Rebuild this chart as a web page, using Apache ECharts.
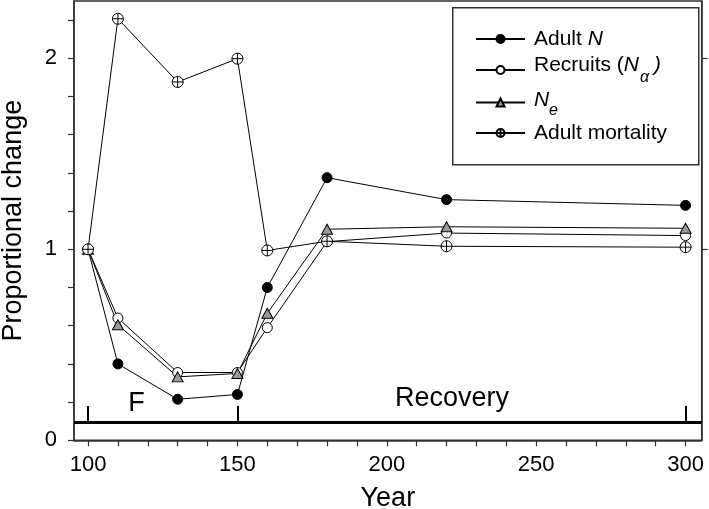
<!DOCTYPE html>
<html>
<head>
<meta charset="utf-8">
<script src="https://cdn.jsdelivr.net/npm/echarts@6/dist/echarts.min.js"></script>
<style>
html,body{margin:0;padding:0;background:#fff;}
#chart{width:709px;height:509px;}
</style>
</head>
<body>
<div id="chart"></div>
<script>
// ---- data ----
const years = [100, 110, 130, 150, 160, 180, 220, 300];
const adultN = [1.0, 0.40, 0.215, 0.24, 0.80, 1.375, 1.26, 1.23];
const recruits = [1.0, 0.64, 0.355, 0.355, 0.59, 1.04, 1.085, 1.072];
const ne = [1.0, 0.605, 0.332, 0.35, 0.665, 1.105, 1.118, 1.11];
const mortality = [1.0, 2.207, 1.876, 1.998, 0.994, 1.042, 1.016, 1.011];

const seriesNames = ['Adult N', 'Recruits (N\u03b1)', 'Ne', 'Adult mortality'];
const xTickValues = [100,110,120,130,140,150,160,170,180,190,200,210,220,230,240,250,260,270,280,290,300];
const xLabelValues = [100, 150, 200, 250, 300];
const yTickValues = [0,0.2,0.4,0.6,0.8,1,1.2,1.4,1.6,1.8,2,2.2];
const yLabelValues = [0, 1, 2];

// phase annotation
const phaseYears = [100, 150, 300];
const phaseLineY = 0.093;
const phaseTickTop = 0.18;
const phaseLabelYears = [116.2, 221.8];
const phaseLabelY = [0.19, 0.216];
const phaseLabelText = ['F', 'Recovery'];

const xMin = 95.3, xMax = 305.4, yMin = 0, yMax = 2.3;

const FONT = '"Liberation Sans", Arial, Helvetica, sans-serif';
const crossCircle = 'path://M10,0A10,10,0,1,1,10,20A10,10,0,1,1,10,0ZM0,10L20,10M10,0L10,20';

function pairs(vals){ return years.map((y,i)=>[y, vals[i]]); }

const chart = echarts.init(document.getElementById('chart'), null, {renderer:'canvas'});

const baseLine = {color:'#000', width:1};
const series = [
  {name: seriesNames[0], type:'line', data: pairs(adultN), symbol:'circle', symbolSize:10,
   lineStyle: baseLine, itemStyle:{color:'#000', borderColor:'#000', borderWidth:1}, z:3},
  {name: seriesNames[1], type:'line', data: pairs(recruits), symbol:'circle', symbolSize:10,
   lineStyle: baseLine, itemStyle:{color:'#fff', borderColor:'#000', borderWidth:1}, z:3},
  {name: seriesNames[2], type:'line', data: pairs(ne), symbol:'triangle', symbolSize:[11,10],
   lineStyle: baseLine, itemStyle:{color:'#9a9a9a', borderColor:'#000', borderWidth:1}, z:3},
  {name: seriesNames[3], type:'line', data: pairs(mortality), symbol: crossCircle, symbolSize:11,
   lineStyle: baseLine, itemStyle:{color:'#fff', borderColor:'#000', borderWidth:1}, z:3},
  {name:'phases', type:'scatter', silent:true, symbolSize:0, itemStyle:{color:'#000'},
   data: phaseLabelYears.map((x,i)=>[x, phaseLabelY[i], phaseLabelText[i]]),
   label:{show:true, position:'inside', formatter:p=>p.value[2], fontSize:27, color:'#000', opacity:1, fontFamily:FONT},
   markLine:{
     silent:true, symbol:['none','none'], animation:false,
     label:{show:false},
     lineStyle:{color:'#000', width:3, type:'solid'},
     data: [
       [{coord:[xMin, phaseLineY]}, {coord:[xMax, phaseLineY]}]
     ].concat(phaseYears.map(y => [{coord:[y, phaseLineY], lineStyle:{width:2}}, {coord:[y, phaseTickTop]}]))
   }
  }
];

const richStyles = {
  i: {fontStyle:'italic', fontSize:21, fontFamily:FONT, color:'#000', lineHeight:26},
  sp: {fontSize:21, fontFamily:FONT, lineHeight:26, width:15},
  t: {fontSize:21, fontFamily:FONT, color:'#000', lineHeight:26}
};
const legendFormat = {
  'Adult N': '{t|Adult }{i|N}',
  'Recruits (N\u03b1)': '{t|Recruits (}{i|N}{sp| }{i|)}',
  'Ne': '{i|N}{sp| }',
  'Adult mortality': '{t|Adult mortality}'
};
// subscripts of the legend labels
const subscriptText = ['\u03b1', 'e'];
const subscriptPos = [[640, 77.5], [549, 110.5]];

const legendTops = [26, 52, 87, 120];
const legendTextPad = [[0,0,0,4],[0,0,10,4],[0,0,5,4],[0,0,0,4]];
const legends = seriesNames.map((n,i)=>({
  data:[n], left:475, top: legendTops[i], padding:0, orient:'vertical',
  itemWidth:49, itemHeight:10, selectedMode:false, z:6,
  formatter: name => legendFormat[name],
  textStyle:{fontSize:21, fontFamily:FONT, color:'#000', lineHeight:26, padding:legendTextPad[i], rich:richStyles}
}));

const graphics = [{type:'rect', left:452, top:7, shape:{width:246, height:157}, z:5,
            style:{fill:'#fff', stroke:'#333', lineWidth:1.5}}].concat(
  subscriptText.map((s,i)=>({type:'text', x:subscriptPos[i][0], y:subscriptPos[i][1], z:7,
    style:{text:s, font:'italic 16px ' + FONT, fill:'#000', textAlign:'left', textVerticalAlign:'middle'}}))
);

chart.setOption({
  animation:false,
  backgroundColor:'#fff',
  textStyle:{fontFamily:FONT},
  grid:{left:74, right:7.3, top:1, bottom:68.7, outerBoundsMode:'none', containLabel:false,
        show:true, borderColor:'#333', borderWidth:1.5, backgroundColor:'rgba(0,0,0,0)'},
  legend: legends,
  graphic: graphics,
  xAxis:{type:'value', min:xMin, max:xMax, name:'Year', nameLocation:'middle', nameGap:45,
    nameTextStyle:{fontSize:27, color:'#000', fontFamily:FONT},
    axisLine:{show:true, lineStyle:{color:'#333', width:1.5}},
    axisTick:{show:true, customValues:xTickValues, length:6, lineStyle:{color:'#333', width:1.2}},
    axisLabel:{customValues:xLabelValues, fontSize:22, color:'#000', margin:14, fontFamily:FONT},
    splitLine:{show:false}},
  yAxis:[
    {type:'value', min:yMin, max:yMax, name:'Proportional change', nameLocation:'middle', nameGap:47,
     nameTextStyle:{fontSize:27, color:'#000', fontFamily:FONT},
     axisLine:{show:true, lineStyle:{color:'#333', width:1.5}},
     axisTick:{show:true, customValues:yTickValues, length:6, lineStyle:{color:'#333', width:1.2}},
     axisLabel:{customValues:yLabelValues, fontSize:22, color:'#000', margin:17, fontFamily:FONT},
     splitLine:{show:false}},
    {type:'value', min:yMin, max:yMax, position:'right',
     axisLine:{show:true, lineStyle:{color:'#333', width:1.5}},
     axisTick:{show:true, customValues:[1,2], length:6, lineStyle:{color:'#333', width:1.2}},
     axisLabel:{show:false}, splitLine:{show:false}}
  ],
  series: series
});
</script>
</body>
</html>
